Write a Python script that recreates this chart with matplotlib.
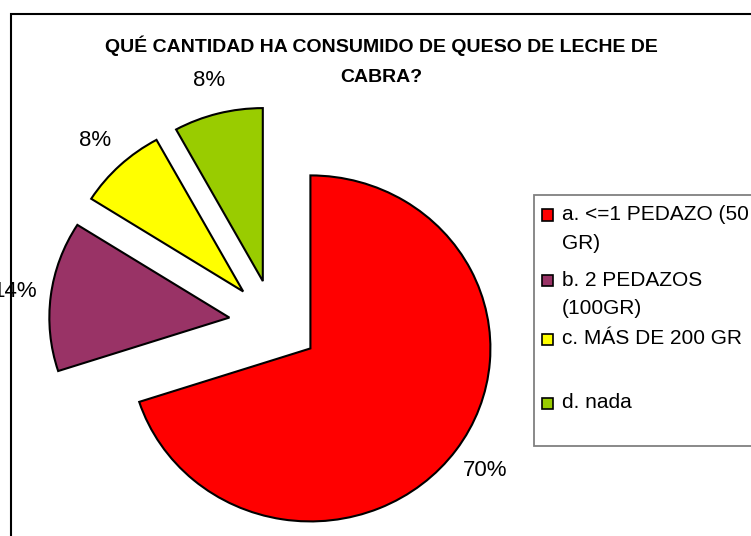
import matplotlib
matplotlib.use('Agg')
import matplotlib.pyplot as plt
from matplotlib.patches import Rectangle

plt.rcParams['font.family'] = ['Liberation Sans', 'DejaVu Sans']

title = 'QUÉ CANTIDAD HA CONSUMIDO DE QUESO DE LECHE DE\nCABRA?'
categories = ['a. <=1 PEDAZO (50\nGR)', 'b. 2 PEDAZOS\n(100GR)', 'c. MÁS DE 200 GR', 'd. nada']
values = [70, 14, 8, 8]
colors = ['#FF0000', '#993366', '#FFFF00', '#99CC00']

W, H = 751, 536
fig = plt.figure(figsize=(W / 100, H / 100), dpi=100)
ax = fig.add_axes([0, 0, 1, 1])

wedges, texts, autotexts = ax.pie(values, colors=colors, startangle=90, counterclock=False,
                                  explode=[0.25] * len(values), autopct='%1.0f%%',
                                  pctdistance=1.2, frame=False,
                                  wedgeprops=dict(edgecolor='black', linewidth=1.5),
                                  textprops=dict(fontsize=16, color='black'))

# slightly stretched pie, like the original
cx, cy = 274, H - 323
ax.set_aspect('auto')
ax.set_xlim(-cx / 180, (W - cx) / 180)
ax.set_ylim(-cy / 173, (H - cy) / 173)
ax.axis('off')

# outer chart frame (cut off at right and bottom)
fig.add_artist(Rectangle((11 / W, -0.5), 2, (H - 14) / H + 0.5, transform=fig.transFigure,
                         fill=False, edgecolor='black', linewidth=1.5))

fig.text(381 / W, 1 - 46 / H, title.split('\n')[0], ha='center', va='center',
         fontsize=14, fontweight='bold')
fig.text(381 / W, 1 - 77 / H, title.split('\n')[1], ha='center', va='center',
         fontsize=14, fontweight='bold')

# legend box
fig.add_artist(Rectangle((533.5 / W, (H - 446) / H), 1, 251 / H, transform=fig.transFigure,
                         facecolor='white', edgecolor='#808080', linewidth=1.3, zorder=2))
rows = [215, 280, 339, 403]
for label, color, y in zip(categories, colors, rows):
    fig.add_artist(Rectangle((542 / W, (H - y - 5.5) / H), 11 / W, 11 / H,
                             transform=fig.transFigure, facecolor=color,
                             edgecolor='black', linewidth=1.2, zorder=3))
    for k, line in enumerate(label.split('\n')):
        fig.text(562 / W, 1 - (y + 28 * k) / H, line, ha='left', va='center',
                 fontsize=15, zorder=3)

fig.savefig('out.png', dpi=100)
